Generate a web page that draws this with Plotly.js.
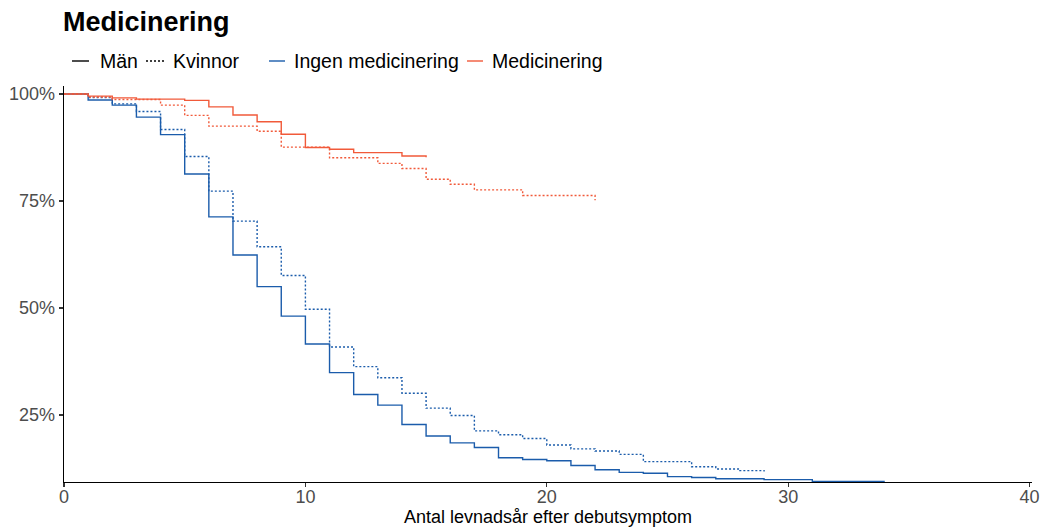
<!DOCTYPE html>
<html>
<head>
<meta charset="utf-8">
<script src="https://cdn.plot.ly/plotly-3.0.1.min.js"></script>
<style>html,body{margin:0;padding:0;background:#fff;}#chart{width:1044px;height:527px;}</style>
</head>
<body>
<div id="chart"></div>
<script>
// Survival (percent) by year since symptom onset
const menNoMedT   = [0,1,2,3,4,5,6,7,8,9,10,11,12,13,14,15,16,17,18,19,20,21,22,23,24,25,26,27,28,29,30,31,34];
const menNoMedY   = [100,98.6,97.4,94.6,90.5,81.3,71.3,62.4,55.0,48.1,41.6,34.9,29.8,27.3,22.8,20.1,18.5,17.4,15.0,14.6,14.3,13.2,12.2,11.6,11.4,10.6,10.4,10.1,10.1,9.9,9.9,9.5,9.5];

const womenNoMedT = [0,1,2,3,4,5,6,7,8,9,10,11,12,13,14,15,16,17,18,19,20,21,22,23,24,25,26,27,28,29];
const womenNoMedY = [100,99.2,97.7,95.9,91.7,85.4,77.3,70.3,64.3,57.6,49.7,40.9,36.3,33.7,30.1,26.6,24.9,21.3,20.4,19.5,18.0,17.1,16.6,15.8,14.1,14.1,12.9,12.4,12.0,11.8];

const menMedT     = [0,1,2,3,4,5,6,7,8,9,10,11,12,13,14,15];
const menMedY     = [100,99.5,99.1,98.8,98.8,98.5,97.0,95.1,93.5,90.6,87.5,87.1,86.3,86.3,85.5,85.2];

const womenMedT   = [0,1,2,3,4,5,6,7,8,9,10,11,12,13,14,15,16,17,18,19,20,21,22];
const womenMedY   = [100,99.3,98.7,98.7,97.4,95.0,92.5,92.5,91.3,87.6,87.6,85.1,85.1,83.8,82.6,80.1,78.9,77.6,77.6,76.3,76.3,76.3,75.2];

const xTicks = [0,10,20,30,40];
const yTicks = [25,50,75,100];
const yTickLabels = ['25%','50%','75%','100%'];

const legendLabels = ['Män', 'Kvinnor', 'Ingen medicinering', 'Medicinering'];

const BLUE = '#1b5cab';
const ORANGE = '#f15a3a';
const DOT = '2px,2px';
const LW = 1.4;

function stepTrace(name, x, y, color, dash) {
  return {name: name, x: x, y: y, type: 'scatter', mode: 'lines',
          line: {shape: 'hv', color: color, width: LW, dash: dash},
          showlegend: false, hoverinfo: 'x+y'};
}

const traces = [
  stepTrace('Män – Ingen medicinering', menNoMedT, menNoMedY, BLUE, 'solid'),
  stepTrace('Kvinnor – Ingen medicinering', womenNoMedT, womenNoMedY, BLUE, DOT),
  stepTrace('Män – Medicinering', menMedT, menMedY, ORANGE, 'solid'),
  stepTrace('Kvinnor – Medicinering', womenMedT, womenMedY, ORANGE, DOT)
];

const FONT = 'Liberation Sans, Arial, Helvetica, sans-serif';

// plot area in pixels (for placing the hand-built legend)
const M = {l: 64, r: 12, t: 86, b: 45};
const PW = 1044 - M.l - M.r, PH = 527 - M.t - M.b;
const px = v => (v - M.l) / PW;
const py = v => (527 - M.b - v) / PH;

// legend layout: [symbol start, symbol end, text start] in px, all at row y = 61
const legendSpec = [
  {sym: [72, 89], text: 98, color: '#000', dash: 'solid'},
  {sym: [146, 164], text: 171, color: '#000', dash: DOT},
  {sym: [269, 285], text: 292, color: BLUE, dash: 'solid'},
  {sym: [467, 483], text: 490, color: ORANGE, dash: 'solid'}
];
const LEG_Y = 61;

const shapes = legendSpec.map(s => ({
  type: 'line', xref: 'paper', yref: 'paper',
  x0: px(s.sym[0]), x1: px(s.sym[1]), y0: py(LEG_Y), y1: py(LEG_Y),
  line: {color: s.color, width: LW, dash: s.dash}
}));
const annotations = legendSpec.map((s, i) => ({
  text: legendLabels[i], xref: 'paper', yref: 'paper',
  x: px(s.text), y: py(LEG_Y), xanchor: 'left', yanchor: 'middle',
  showarrow: false, font: {family: FONT, size: 19.5, color: '#000'}
}));

const layout = {
  width: 1044, height: 527,
  margin: M,
  paper_bgcolor: '#fff', plot_bgcolor: '#fff',
  font: {family: FONT, size: 17, color: '#000'},
  showlegend: false,
  title: {text: '<b>Medicinering</b>', font: {family: FONT, size: 27, color: '#000'},
          xref: 'container', x: 63/1044, xanchor: 'left',
          yref: 'container', y: 1 - 22/527, yanchor: 'middle'},
  xaxis: {range: [0, 40.1], tickvals: xTicks, ticktext: xTicks.map(String),
          showgrid: false, zeroline: false, showline: true, linecolor: '#000', linewidth: 1.3,
          ticks: 'outside', ticklen: 4, tickcolor: '#333', tickwidth: 1.1,
          ticklabelstandoff: -6,
          tickfont: {family: FONT, size: 18, color: '#4d4d4d'},
          title: {text: 'Antal levnadsår efter debutsymptom', font: {family: FONT, size: 18, color: '#000'}, standoff: 2}},
  yaxis: {range: [9.35, 101.87], tickvals: yTicks, ticktext: yTickLabels,
          showgrid: false, zeroline: false, showline: true, linecolor: '#000', linewidth: 1.3,
          ticks: 'outside', ticklen: 4, tickcolor: '#333', tickwidth: 1.1,
          tickfont: {family: FONT, size: 18, color: '#4d4d4d'}},
  shapes: shapes,
  annotations: annotations
};

Plotly.newPlot('chart', traces, layout, {displayModeBar: false, staticPlot: true});
</script>
</body>
</html>
